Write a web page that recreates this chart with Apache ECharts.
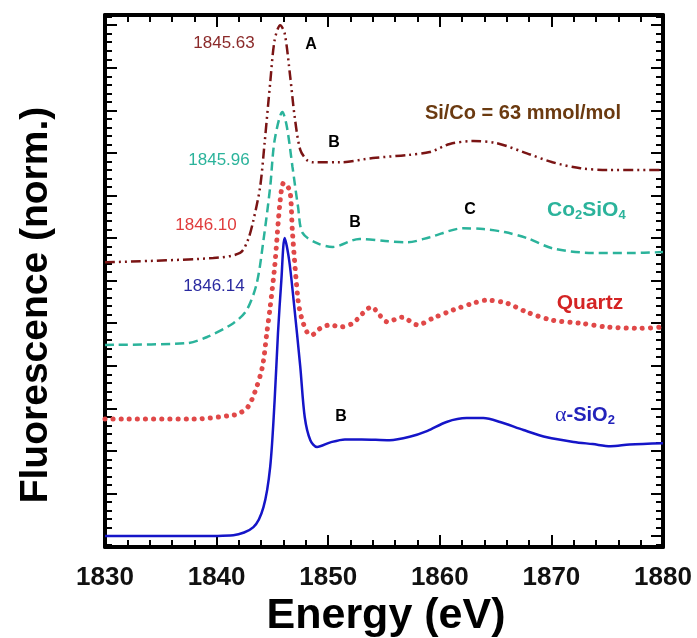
<!DOCTYPE html>
<html>
<head>
<meta charset="utf-8">
<script src="https://cdn.jsdelivr.net/npm/echarts@6/dist/echarts.min.js"></script>
<style>html,body{margin:0;padding:0;background:#fff}#c{width:697px;height:638px}</style>
</head>
<body>
<div id="c"></div>
<script>
// ---- data (energy in eV, normalized fluorescence with vertical offsets) ----
var xTicks = [1830, 1840, 1850, 1860, 1870, 1880];

var siCoE = [1830, 1839.7, 1842.1, 1842.8, 1843.3, 1843.9, 1844.3, 1844.8, 1845.2, 1845.7, 1846.1, 1846.6, 1847.0, 1847.5, 1848.1, 1848.6, 1851.1, 1854.0, 1857.1, 1859.1, 1860.9, 1863.0, 1865.1, 1867.8, 1870.1, 1872.6, 1875.0, 1880];
var siCoY = [6.43, 6.53, 6.65, 6.95, 7.42, 8.20, 9.23, 10.64, 11.65, 12.0, 11.81, 10.78, 9.84, 9.07, 8.83, 8.78, 8.78, 8.88, 8.95, 9.02, 9.21, 9.28, 9.23, 8.99, 8.78, 8.64, 8.60, 8.60];

var co2E = [1830, 1837.3, 1839.1, 1841.5, 1842.7, 1843.6, 1844.2, 1844.8, 1845.2, 1845.9, 1846.3, 1846.8, 1847.3, 1847.7, 1849.0, 1850.4, 1852.8, 1855.1, 1857.1, 1859.1, 1862.1, 1863.9, 1865.8, 1867.8, 1870.1, 1873.7, 1877.0, 1880];
var co2Y = [4.49, 4.53, 4.67, 5.0, 5.31, 5.94, 6.95, 8.20, 9.30, 9.96, 9.61, 8.67, 7.73, 7.12, 6.88, 6.79, 6.98, 6.93, 6.90, 7.02, 7.23, 7.21, 7.14, 7.0, 6.76, 6.65, 6.65, 6.67];

var quartzE = [1830, 1838, 1841.5, 1842.1, 1842.8, 1843.4, 1844.1, 1844.5, 1844.8, 1845.2, 1845.7, 1846.0, 1846.3, 1846.6, 1846.8, 1847.3, 1847.6, 1848.1, 1848.5, 1849.3, 1850.2, 1851.1, 1852.2, 1853.9, 1854.6, 1855.3, 1856.6, 1858.0, 1859.4, 1861.2, 1863.0, 1864.2, 1866.0, 1867.8, 1870.1, 1872.6, 1875.0, 1878.0, 1880];
var quartzY = [2.75, 2.75, 2.84, 2.89, 3.03, 3.36, 3.97, 4.77, 5.38, 6.32, 7.89, 8.29, 8.24, 8.06, 7.12, 5.54, 5.14, 4.79, 4.72, 4.88, 4.96, 4.91, 5.0, 5.38, 5.19, 5.03, 5.14, 4.96, 5.12, 5.31, 5.47, 5.54, 5.47, 5.26, 5.07, 5.0, 4.91, 4.88, 4.91];

var sio2E = [1830, 1838, 1841.5, 1843.3, 1844.2, 1844.8, 1845.2, 1845.5, 1845.8, 1846.1, 1846.5, 1846.9, 1847.5, 1847.9, 1848.4, 1849.0, 1850.2, 1851.5, 1853.0, 1855.5, 1857.3, 1858.9, 1860.6, 1862.4, 1863.9, 1865.4, 1867.5, 1869.6, 1872.0, 1873.7, 1875.3, 1877.0, 1880];
var sio2Y = [0.0, 0.0, 0.02, 0.21, 0.68, 1.62, 3.19, 4.77, 6.0, 7.0, 6.48, 5.54, 3.97, 2.79, 2.25, 2.09, 2.20, 2.27, 2.27, 2.25, 2.33, 2.47, 2.68, 2.77, 2.77, 2.68, 2.49, 2.32, 2.21, 2.16, 2.11, 2.15, 2.18];

var yMin = -0.258, yMax = 12.24;

function pairs(xs, ys) { return xs.map(function (x, i) { return [x, ys[i]]; }); }

var FONT = '"Liberation Sans", Arial, sans-serif';
var chart = echarts.init(document.getElementById('c'), null, { renderer: 'canvas' });

function xAx(pos, labels) {
  return {
    type: 'value', position: pos, min: 1830, max: 1880, interval: 10,
    axisLine: { show: true, onZero: false, lineStyle: { color: '#000', width: 4 } },
    axisTick: { show: true, inside: true, length: 12, lineStyle: { color: '#000', width: 2 } },
    minorTick: { show: true, splitNumber: 5, length: 7, lineStyle: { color: '#000', width: 2 } },
    splitLine: { show: false },
    axisLabel: { show: labels, margin: 18, color: '#111', fontFamily: FONT, fontWeight: 'bold', fontSize: 26,
      formatter: function (v) { return xTicks.indexOf(v) >= 0 ? String(v) : ''; } }
  };
}
function yAx(pos) {
  return {
    type: 'value', position: pos, min: yMin, max: yMax, splitNumber: 12,
    axisLine: { show: true, onZero: false, lineStyle: { color: '#000', width: 4 } },
    axisTick: { show: true, inside: true, length: 12, lineStyle: { color: '#000', width: 2 } },
    minorTick: { show: true, splitNumber: 5, length: 7, lineStyle: { color: '#000', width: 2 } },
    splitLine: { show: false },
    axisLabel: { show: false }
  };
}

function txt(x, y, text, color, size, weight, extra) {
  var st = { text: text, fill: color, font: (weight || 'normal') + ' ' + size + 'px ' + FONT, textAlign: 'center', textVerticalAlign: 'middle' };
  if (extra) for (var k in extra) st[k] = extra[k];
  return { type: 'text', x: x, y: y, style: st, z: 100 };
}

var option = {
  animation: false,
  backgroundColor: '#fff',
  grid: { left: 105, right: 34, top: 15, bottom: 91, containLabel: false },
  xAxis: [xAx('bottom', true), xAx('top', false)],
  yAxis: [yAx('left'), yAx('right')],
  series: [
    { type: 'line', name: 'Si/Co', data: pairs(siCoE, siCoY), showSymbol: false, smooth: 0.3,
      lineStyle: { color: '#7a1414', width: 2.5, type: [10, 4, 2, 4, 2, 4] } },
    { type: 'line', name: 'Co2SiO4', data: pairs(co2E, co2Y), showSymbol: false, smooth: 0.3,
      lineStyle: { color: '#2bb39b', width: 2.5, type: [9, 5] } },
    { type: 'line', name: 'Quartz', data: pairs(quartzE, quartzY), showSymbol: false, smooth: 0.3,
      lineStyle: { color: '#e04848', width: 5, type: [0.1, 8], cap: 'round' } },
    { type: 'line', name: 'a-SiO2', data: pairs(sio2E, sio2Y), showSymbol: false, smooth: 0.3,
      lineStyle: { color: '#1515c8', width: 2.5 } }
  ],
  graphic: [
    txt(224, 43, '1845.63', '#8b2a2a', 17),
    txt(311, 45, 'A', '#000', 16, 'bold'),
    txt(219, 160, '1845.96', '#2bb39b', 17),
    txt(334, 143, 'B', '#000', 16, 'bold'),
    txt(206, 225, '1846.10', '#e03c3c', 17),
    txt(214, 286, '1846.14', '#2a2aa0', 17),
    txt(355, 223, 'B', '#000', 16, 'bold'),
    txt(470, 210, 'C', '#000', 16, 'bold'),
    txt(341, 417, 'B', '#000', 16, 'bold'),
    txt(523, 113, 'Si/Co = 63 mmol/mol', '#6b3a10', 20, 'bold'),
    { type: 'text', x: 547, y: 210, z: 100, style: {
        text: '{a|Co}{s|2}{a|SiO}{s|4}', textVerticalAlign: 'middle', textAlign: 'left',
        rich: {
          a: { fill: '#2bb39b', fontFamily: FONT, fontWeight: 'bold', fontSize: 21, lineHeight: 24 },
          s: { fill: '#2bb39b', fontFamily: FONT, fontWeight: 'bold', fontSize: 13, lineHeight: 24, padding: [11, 0, 0, 0] }
        } } },
    txt(590, 303, 'Quartz', '#d42424', 21, 'bold'),
    { type: 'text', x: 555, y: 415, z: 100, style: {
        text: '{g|α}{a|-SiO}{s|2}', textVerticalAlign: 'middle', textAlign: 'left',
        rich: {
          g: { fill: '#2222bb', fontFamily: '"Liberation Serif", "DejaVu Serif", serif', fontSize: 22, lineHeight: 24 },
          a: { fill: '#2222bb', fontFamily: FONT, fontWeight: 'bold', fontSize: 20, lineHeight: 24 },
          s: { fill: '#2222bb', fontFamily: FONT, fontWeight: 'bold', fontSize: 13, lineHeight: 24, padding: [11, 0, 0, 0] }
        } } },
    txt(386, 616, 'Energy (eV)', '#000', 43, 'bold'),
    { type: 'text', x: 36, y: 305, rotation: Math.PI / 2, z: 100, style: {
        text: 'Fluorescence (norm.)', fill: '#000', font: 'bold 39px ' + FONT, textAlign: 'center', textVerticalAlign: 'middle' } }
  ]
};
chart.setOption(option);
</script>
</body>
</html>
